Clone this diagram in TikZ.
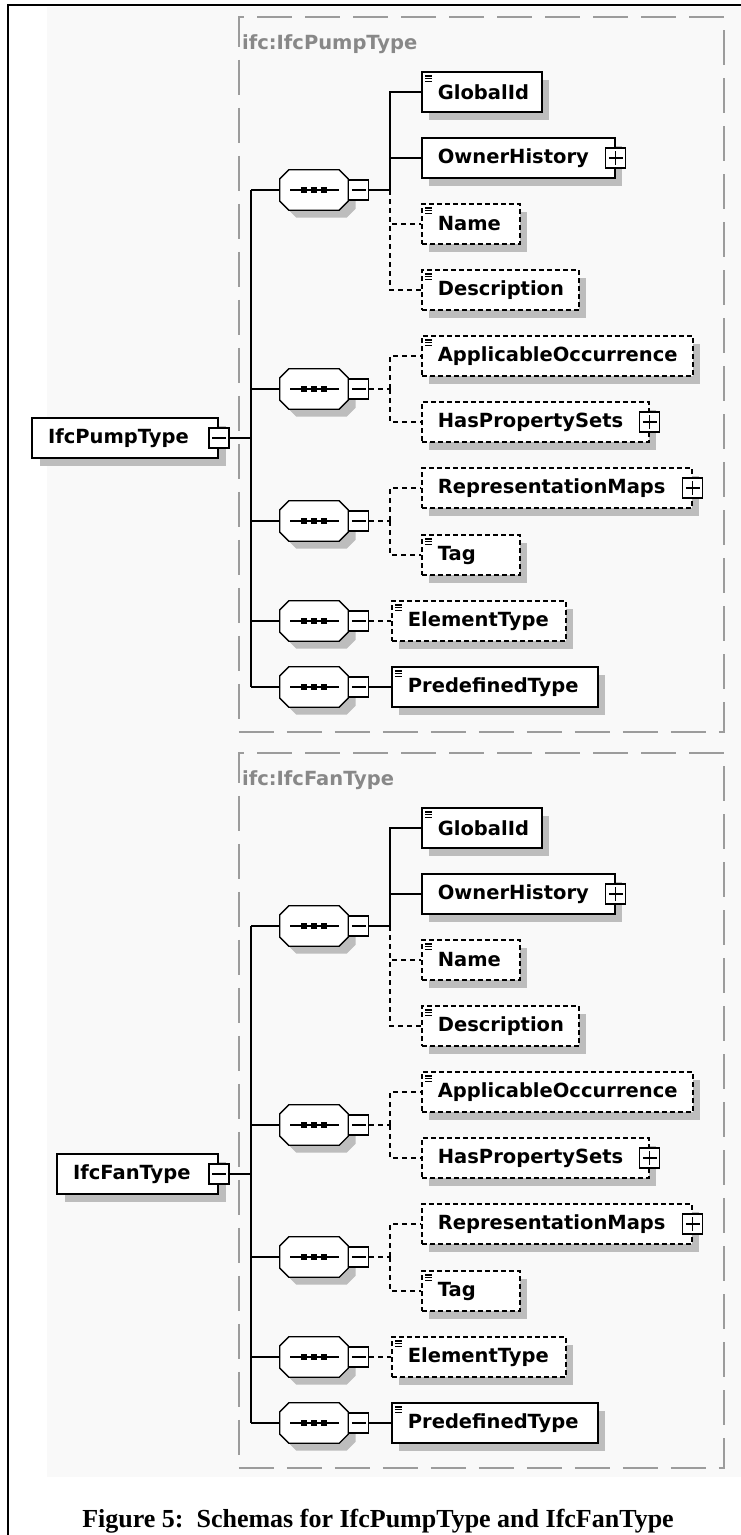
\documentclass[tikz,border=0pt]{standalone}
\usepackage{fontspec}
\setmainfont{Liberation Serif}
\newfontfamily\xsdfont{DejaVu Sans}
\usepackage{tikz}
\usetikzlibrary{shadows}

\definecolor{shadowgray}{HTML}{BDBDBD}
\definecolor{panelgray}{HTML}{9C9C9C}
\definecolor{titlegray}{HTML}{888888}
\definecolor{backgray}{HTML}{F9F9F9}

% octagon outline round a sequence node: #1 node, #2/#3 offset
\newcommand{\octagonpath}[3]{%
  ([shift={(#2+9pt,#3)}]#1.north west) -- ([shift={(#2-9pt,#3)}]#1.north east)
  -- ([shift={(#2,#3-9pt)}]#1.north east) -- ([shift={(#2,#3+9pt)}]#1.south east)
  -- ([shift={(#2-9pt,#3)}]#1.south east) -- ([shift={(#2+9pt,#3)}]#1.south west)
  -- ([shift={(#2,#3+9pt)}]#1.south west) -- ([shift={(#2,#3-9pt)}]#1.north west) -- cycle}
\newcommand{\seqdraw}[1]{%
  \fill[shadowgray] \octagonpath{#1}{7.5pt}{-7.5pt};
  \filldraw[fill=white, line width=1.3pt] \octagonpath{#1}{0pt}{0pt};
  \draw[line width=1.3pt] ([xshift=-24pt]#1.center) -- ([xshift=25pt]#1.center);
  \foreach \dx in {-10pt,0pt,10pt}
    \fill[black] ([xshift=\dx]#1.center) ++(-2.8pt,-2.8pt) rectangle ++(5.6pt,5.6pt);}

\tikzset{
  xsdtext/.style={font=\xsdfont\bfseries\fontsize{19.5pt}{22pt}\selectfont},
  boxshadow/.style={drop shadow={shadow xshift=7.5pt, shadow yshift=-7.5pt, fill=shadowgray, opacity=1}},
  elem/.style={xsdtext, draw, fill=white, line width=1.8pt, minimum height=40pt,
    inner xsep=16pt, inner ysep=0pt, align=left, anchor=west, boxshadow,
    execute at begin node={\hyphenpenalty=10000\exhyphenpenalty=10000}},
  optelem/.style={elem, dash pattern=on 5pt off 3pt},
  simple/.style={path picture={
    \foreach \dy in {4pt,6.8pt,9.6pt}
      \draw[solid, black, line width=1.1pt] ([shift={(3pt,-\dy)}]path picture bounding box.north west) -- ++(7pt,0pt);}},
  togglebox/.style={rectangle, draw, fill=white, solid, line width=1.2pt, minimum size=20pt, inner sep=0pt},
  collapse/.style={togglebox, path picture={
    \draw[line width=1.2pt] ([xshift=-7pt]path picture bounding box.center) -- ([xshift=7pt]path picture bounding box.center);}},
  expand/.style={togglebox, path picture={
    \draw[line width=1.2pt] ([xshift=-7pt]path picture bounding box.center) -- ([xshift=7pt]path picture bounding box.center)
      ([yshift=-7pt]path picture bounding box.center) -- ([yshift=7pt]path picture bounding box.center);}},
  seq/.style={minimum width=68pt, minimum height=40pt, inner sep=0pt,
    append after command={\pgfextra{\seqdraw{\tikzlastnode}}}},
  conn/.style={line width=1.8pt},
  optconn/.style={conn, dash pattern=on 5pt off 4pt},
  panel/.style={draw=panelgray, line width=1.8pt, dash pattern=on 35pt off 13pt,
    minimum width=485pt, minimum height=715pt, anchor=north west, inner sep=0pt},
  titletext/.style={xsdtext, text=titlegray, anchor=west, inner sep=0pt},
}

% one schema block: #1 prefix, #2 root name, #3 root text width, #4 title
\newcommand{\typeschema}[4]{%
  \node[panel] (#1panel) at (238,16) {};
  \node[titletext] (#1title) at (242,44) {#4};
  % root element
  \node[elem, anchor=east, text width=#3] (#1root) at (219,438) {#2};
  \node[collapse] (#1roott) at (#1root.east) {};
  % sequences
  \node[seq] (#1seq1) at (314,190) {};
  \node[seq] (#1seq2) at (314,389) {};
  \node[seq] (#1seq3) at (314,521) {};
  \node[seq] (#1seq4) at (314,621) {};
  \node[seq] (#1seq5) at (314,687) {};
  \foreach \k in {1,...,5}
    \node[collapse, anchor=west] (#1tog\k) at (#1seq\k.east) {};
  % elements
  \node[elem, simple, text width=88pt] (#1GlobalId) at (421,92) {GlobalId};
  \node[elem, text width=161pt] (#1OwnerHistory) at (421,158) {OwnerHistory};
  \node[optelem, simple, text width=66pt] (#1Name) at (421,224) {Name};
  \node[optelem, simple, text width=125pt] (#1Description) at (421,290) {Description};
  \node[optelem, simple, text width=239pt] (#1ApplicableOccurrence) at (421,356) {ApplicableOccurrence};
  \node[optelem, text width=195pt] (#1HasPropertySets) at (421,422) {HasPropertySets};
  \node[optelem, text width=238pt] (#1RepresentationMaps) at (421,488) {RepresentationMaps};
  \node[optelem, simple, text width=66pt] (#1Tag) at (421,555) {Tag};
  \node[optelem, simple, text width=142pt] (#1ElementType) at (391,621) {ElementType};
  \node[elem, simple, text width=174pt] (#1PredefinedType) at (391,687) {PredefinedType};
  \node[expand] (#1OwnerHistoryx) at (#1OwnerHistory.east) {};
  \node[expand] (#1HasPropertySetsx) at (#1HasPropertySets.east) {};
  \node[expand] (#1RepresentationMapsx) at (#1RepresentationMaps.east) {};
  % trunk
  \coordinate (#1trunk) at (251,438);
  \draw[conn] (#1roott.east) -- (#1trunk);
  \draw[conn] (#1trunk |- #1seq1.west) -- (#1trunk |- #1seq5.west);
  \foreach \k in {1,...,5}
    \draw[conn] (#1trunk |- #1seq\k.west) -- (#1seq\k.west);
  % branches
  \coordinate (#1fork1) at (390,190);
  \coordinate (#1fork2) at (390,389);
  \coordinate (#1fork3) at (390,521);
  \draw[conn] (#1tog1.east) -- (#1fork1);
  \draw[conn] (#1fork1) |- (#1GlobalId.west);
  \draw[conn] (#1fork1 |- #1OwnerHistory.west) -- (#1OwnerHistory.west);
  \draw[optconn] (#1fork1) |- (#1Name.west);
  \draw[optconn] (#1fork1) |- (#1Description.west);
  \draw[optconn] (#1tog2.east) -- (#1fork2);
  \draw[optconn] (#1fork2) |- (#1ApplicableOccurrence.west);
  \draw[optconn] (#1fork2) |- (#1HasPropertySets.west);
  \draw[optconn] (#1tog3.east) -- (#1fork3);
  \draw[optconn] (#1fork3) |- (#1RepresentationMaps.west);
  \draw[optconn] (#1fork3) |- (#1Tag.west);
  \draw[optconn] (#1tog4.east) -- (#1ElementType.west);
  \draw[conn] (#1tog5.east) -- (#1PredefinedType.west);
}

\begin{document}
\begin{tikzpicture}[x=1pt,y=-1pt]
  \useasboundingbox (0,0) rectangle (741,1535);
  \fill[backgray] (47,7) rectangle (741,1477);
  % page frame
  \draw[line width=2.5pt] (8,1535) -- (8,5) -- (741,5);

  \typeschema{p}{IfcPumpType}{154pt}{ifc:IfcPumpType}
  \begin{scope}[shift={(0,736)}]
    \typeschema{f}{IfcFanType}{129pt}{ifc:IfcFanType}
  \end{scope}

  \node[font=\bfseries\fontsize{26pt}{28pt}\selectfont, anchor=base] (caption) at (378,1527)
    {Figure 5:\ \ Schemas for IfcPumpType and IfcFanType};
\end{tikzpicture}
\end{document}
